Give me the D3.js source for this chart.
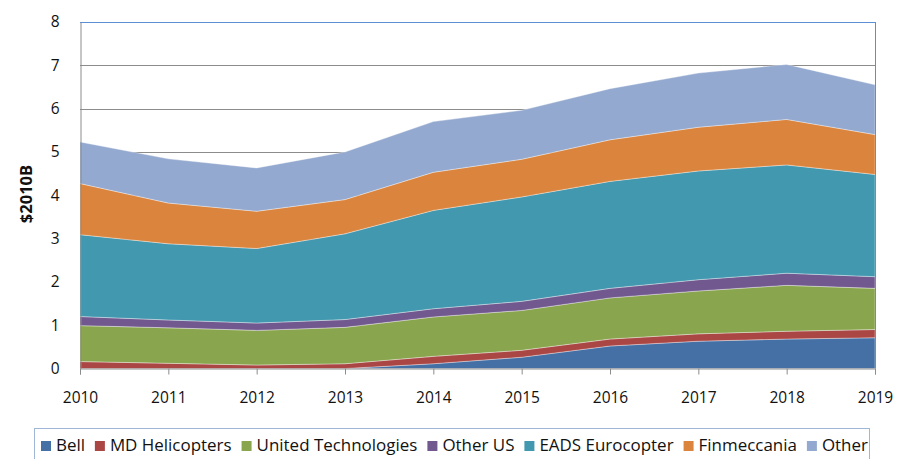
<!DOCTYPE html>
<html>
<head>
<meta charset="utf-8">
<script src="https://cdn.jsdelivr.net/npm/d3@7"></script>
<style>
  body { margin: 0; background: #fff; }
  svg { display: block; font-family: "Open Sans", "Liberation Sans", sans-serif; }
</style>
</head>
<body>
<svg id="base" width="909" height="459"></svg>
<script>
// chart values
let years = [2010, 2011, 2012, 2013, 2014, 2015, 2016, 2017, 2018, 2019]
let seriesNames = ["Bell", "MD Helicopters", "United Technologies", "Other US", "EADS Eurocopter", "Finmeccania", "Other"]
let bell = [0, 0, 0, 0, 0.11, 0.26, 0.52, 0.63, 0.68, 0.71]
let mdHeli = [0.16, 0.12, 0.08, 0.11, 0.17, 0.16, 0.16, 0.17, 0.18, 0.19]
let unitedTech = [0.83, 0.82, 0.80, 0.84, 0.91, 0.92, 0.95, 0.99, 1.06, 0.95]
let otherUS = [0.21, 0.18, 0.17, 0.18, 0.19, 0.21, 0.22, 0.26, 0.28, 0.27]
let eads = [1.89, 1.76, 1.72, 1.98, 2.27, 2.41, 2.47, 2.51, 2.50, 2.36]
let finmeccania = [1.18, 0.94, 0.86, 0.79, 0.88, 0.87, 0.96, 1.01, 1.05, 0.92]
let other = [0.96, 1.02, 1.00, 1.10, 1.17, 1.13, 1.18, 1.25, 1.27, 1.15]
let yTicks = [0, 1, 2, 3, 4, 5, 6, 7, 8]
let colors = ["#4470a6", "#aa4643", "#89a54e", "#71588f", "#4198af", "#db843d", "#93a9cf"]

const svg = d3.select('#base')
let plotLeft = 80, plotRight = 875, plotTop = 22, plotBottom = 368.5

let rows = years.map((yr, i) => ({
    year: yr,
    "Bell": bell[i],
    "MD Helicopters": mdHeli[i],
    "United Technologies": unitedTech[i],
    "Other US": otherUS[i],
    "EADS Eurocopter": eads[i],
    "Finmeccania": finmeccania[i],
    "Other": other[i]
}))

let x = d3.scaleLinear().domain([2010, 2019]).range([plotLeft, plotRight])
let y = d3.scaleLinear().domain([0, 8]).range([plotBottom, plotTop])

// gridlines (behind the areas)
svg.append('g')
    .selectAll('line')
    .data(yTicks.filter(t => t > 0 && t < 8))
    .join('line')
    .attr('x1', plotLeft).attr('x2', plotRight)
    .attr('y1', d => Math.round(y(d)) + 0.5).attr('y2', d => Math.round(y(d)) + 0.5)
    .style('stroke', '#8c8c8c')
    .style('stroke-width', 1)

let stacked = d3.stack().keys(seriesNames)(rows)
let area = d3.area()
    .x(d => x(d.data.year))
    .y0(d => y(d[0]))
    .y1(d => y(d[1]))

svg.append('g')
    .selectAll('path')
    .data(stacked)
    .join('path')
    .attr('d', area)
    .style('fill', (d, i) => colors[i])
    .style('stroke', 'rgba(255,255,255,0.45)')
    .style('stroke-width', 0.8)

// plot border top / right
svg.append('line')
    .attr('x1', plotLeft).attr('x2', plotRight + 0.5).attr('y1', plotTop + 0.5).attr('y2', plotTop + 0.5)
    .style('stroke', '#5b8fd6').style('stroke-width', 1)
svg.append('line')
    .attr('x1', plotRight + 0.5).attr('x2', plotRight + 0.5).attr('y1', plotTop).attr('y2', plotBottom)
    .style('stroke', '#5b8fd6').style('stroke-width', 1)

// axes
let xAxis = svg.append('g')
    .attr('transform', 'translate(0,' + plotBottom + ')')
    .call(d3.axisBottom(x).tickValues(years).tickFormat(d3.format('d')).tickSize(6).tickPadding(17))
xAxis.select('.domain').style('stroke', '#8c8c8c')
xAxis.selectAll('line').style('stroke', '#8c8c8c')
xAxis.selectAll('text')
    .style('font-size', '15.5px')
    .style('fill', '#111')
    .style('font-family', '"Open Sans", sans-serif')

let yAxis = svg.append('g')
    .attr('transform', 'translate(' + (plotLeft + 0.5) + ',0)')
    .call(d3.axisLeft(y).tickValues(yTicks).tickSize(0).tickPadding(21))
yAxis.select('.domain').style('stroke', '#8c8c8c')
yAxis.selectAll('text')
    .style('font-size', '15.5px')
    .style('fill', '#111')
    .style('font-family', '"Open Sans", sans-serif')

// y title
svg.append('text')
    .attr('transform', 'translate(32,194) rotate(-90)')
    .attr('text-anchor', 'middle')
    .style('font-size', '16.5px')
    .style('font-weight', 'bold')
    .style('fill', '#111')
    .text('$2010B')

// legend
let legend = svg.append('g')
legend.append('rect')
    .attr('x', 34.5).attr('y', 428.5).attr('width', 835).attr('height', 40)
    .style('fill', '#fff').style('stroke', '#9fb6d6').style('stroke-width', 1)

let legendFont = 15
let items = legend.selectAll('g.item')
    .data(seriesNames)
    .join('g').attr('class', 'item')
items.append('rect')
    .attr('width', 10).attr('height', 10)
    .style('fill', (d, i) => colors[i])
items.append('text')
    .attr('x', 15).attr('y', 10)
    .style('font-size', legendFont + 'px')
    .style('fill', '#111')
    .text(d => d)

// fit legend text into the span used by the reference
let widths = []
items.selectAll('text').each(function () { widths.push(this.getComputedTextLength()) })
let targetText = 663
let sc = targetText / d3.sum(widths)
items.selectAll('text').style('font-size', (legendFont * sc).toFixed(2) + 'px')
widths = widths.map(w => w * sc)
let gap = (868 - 41 - d3.sum(widths) - seriesNames.length * 15) / (seriesNames.length - 1)
let cx = 41
items.each(function (d, i) {
    d3.select(this).attr('transform', 'translate(' + cx + ',441)')
    cx += 15 + widths[i] + gap
})
</script>
</body>
</html>
